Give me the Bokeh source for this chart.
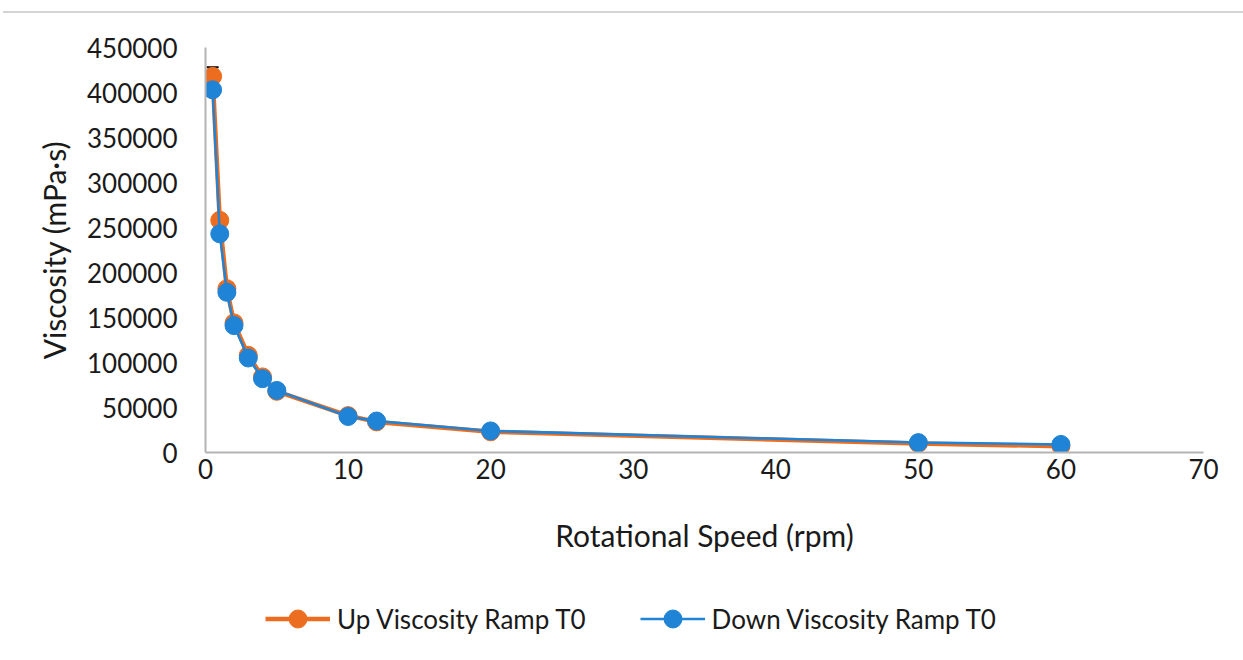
from bokeh.plotting import figure
from bokeh.models import Legend, LegendItem, Div, Whisker, ColumnDataSource, FixedTicker, NumeralTickFormatter
from bokeh.layouts import column
from bokeh.embed import file_html
from bokeh.resources import INLINE

speed = [0.5, 1, 1.5, 2, 3, 4, 5, 10, 12, 20, 50, 60]
up_visc = [418000, 258000, 182000, 144000, 108000, 84000, 68000, 41000, 34000, 23000, 10000, 7000]
down_visc = [403000, 243000, 178000, 141000, 105000, 82000, 69000, 40000, 35000, 24000, 11000, 9000]
up_err = [10000, 5000, 6000, 3000, 2000, 1000, 1000, 1000, 1000, 500, 500, 500]
down_err = [3000, 6000, 7000, 2000, 2000, 1000, 1000, 1000, 1000, 500, 500, 500]

x_ticks = [0, 10, 20, 30, 40, 50, 60, 70]
y_ticks = [0, 50000, 100000, 150000, 200000, 250000, 300000, 350000, 400000, 450000]
series_names = ["Up Viscosity Ramp T0", "Down Viscosity Ramp T0"]

FONT = "Lato"
ORANGE = "#EC6D1F"
BLUE = "#1F83D6"

p = figure(frame_width=998, frame_height=405, min_border_left=205, min_border_right=40,
           min_border_top=34, min_border_bottom=140,
           x_range=(0, 70), y_range=(0, 450000),
           output_backend="svg", toolbar_location=None, margin=(0, 0, 0, 0))
p.outline_line_color = None
p.xgrid.grid_line_color = None
p.ygrid.grid_line_color = None

up_low = [v - e for v, e in zip(up_visc, up_err)]
up_high = [v + e for v, e in zip(up_visc, up_err)]
dn_low = [v - e for v, e in zip(down_visc, down_err)]
dn_high = [v + e for v, e in zip(down_visc, down_err)]
src_u = ColumnDataSource(dict(x=speed, lo=up_low, hi=up_high))
src_d = ColumnDataSource(dict(x=speed, lo=dn_low, hi=dn_high))
for s in (src_u, src_d):
    w = Whisker(source=s, base="x", lower="lo", upper="hi", line_color="black", line_width=1.5)
    w.upper_head.size = 12
    w.lower_head.size = 12
    w.upper_head.line_color = "black"
    w.lower_head.line_color = "black"
    w.upper_head.line_width = 2
    w.lower_head.line_width = 2
    p.add_layout(w)

p.line(speed, up_visc, line_color=ORANGE, line_width=4.5)
p.scatter(speed, up_visc, size=18, fill_color=ORANGE, line_color=ORANGE)
p.line(speed, down_visc, line_color=BLUE, line_width=2.5)
p.scatter(speed, down_visc, size=18, fill_color=BLUE, line_color=BLUE)

for ax in (p.xaxis[0], p.yaxis[0]):
    ax.axis_line_color = "#b4b4b4"
    ax.axis_line_width = 2
    ax.major_tick_line_color = None
    ax.minor_tick_line_color = None
    ax.major_label_text_font = FONT
    ax.major_label_text_font_size = "26px"
    ax.major_label_text_color = "#1a1a1a"
    ax.axis_label_text_font = FONT
    ax.axis_label_text_font_size = "30px"
    ax.axis_label_text_font_style = "normal"
    ax.axis_label_text_color = "#1a1a1a"

p.xaxis.ticker = FixedTicker(ticks=x_ticks)
p.yaxis.ticker = FixedTicker(ticks=y_ticks)
p.yaxis.formatter = NumeralTickFormatter(format="0")
p.xaxis.axis_label = "Rotational Speed (rpm)"
p.yaxis.axis_label = "Viscosity (mPa·s)"
p.xaxis.major_label_standoff = 0
p.yaxis.major_label_standoff = 22
p.xaxis.axis_label_standoff = 35
p.yaxis.axis_label_standoff = 12

# legend strip (separate small figure; its renderers hold no visible points)
lg = figure(width=1243, height=68, x_range=(0, 1), y_range=(0, 1),
            output_backend="svg", toolbar_location=None, margin=(0, 0, 0, 0),
            min_border=0)
lg.axis.visible = False
lg.grid.grid_line_color = None
lg.outline_line_color = None
nan = float("nan")
e = ColumnDataSource(dict(x=[nan], y=[nan]))
a1 = lg.line("x", "y", source=e, line_color=ORANGE, line_width=4.5)
b1 = lg.scatter("x", "y", source=e, size=18, fill_color=ORANGE, line_color=ORANGE)
a2 = lg.line("x", "y", source=e, line_color=BLUE, line_width=2.5)
b2 = lg.scatter("x", "y", source=e, size=18, fill_color=BLUE, line_color=BLUE)

legend = Legend(items=[LegendItem(label=series_names[0], renderers=[a1, b1], index=0),
                       LegendItem(label=series_names[1], renderers=[a2, b2], index=0)],
                orientation="horizontal", location=(60, 19),
                label_text_font=FONT, label_text_font_size="26px", label_text_color="#1a1a1a",
                glyph_width=65, glyph_height=45, label_standoff=7, spacing=54,
                border_line_color=None, background_fill_alpha=0, padding=4, margin=0)
lg.add_layout(legend, "center")

top = Div(text="", width=1240, height=13, margin=(0, 0, 0, 3),
          styles={"border-bottom": "2px solid #d4d4d4", "box-sizing": "border-box", "padding": "0"})
layout = column(top, p, lg, spacing=0, margin=(0, 0, 0, 0))

open("out.html", "w").write(file_html(layout, INLINE))
